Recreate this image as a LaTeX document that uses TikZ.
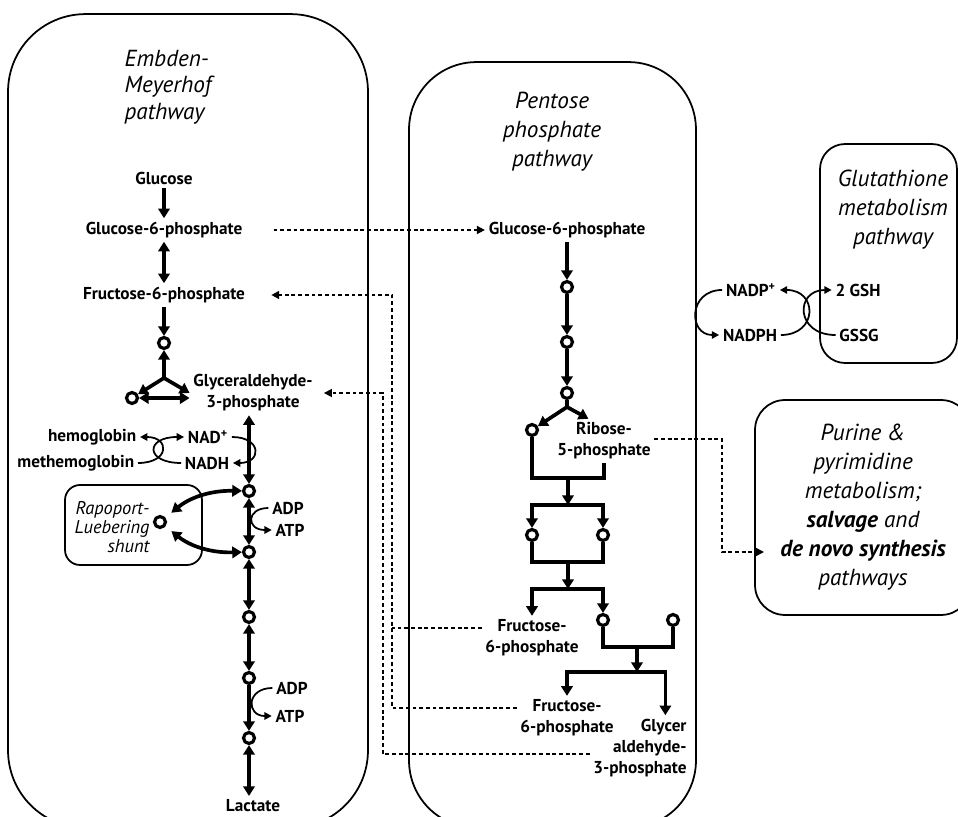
\documentclass[tikz,border=0pt]{standalone}
\usepackage{fontspec}
\setmainfont{PT Sans}
\usepackage{tikz}
\usetikzlibrary{arrows.meta,positioning,calc}
\tikzset{
	pbox/.style={draw,line width=1pt},
	lbl/.style={font=\fontsize{9.8}{12}\selectfont\bfseries,align=center,inner sep=2pt},
	ttl/.style={font=\fontsize{13.2}{16.5}\selectfont\itshape,align=center,inner sep=0pt},
	met/.style={circle,draw,line width=1.8pt,minimum size=0.22cm,inner sep=0pt},
	arr/.style={-{Triangle[length=5.5pt,width=6.5pt]},line width=2.1pt},
	arrb/.style={{Triangle[length=5.5pt,width=6.5pt]}-{Triangle[length=5.5pt,width=6.5pt]},line width=2.1pt},
	ln/.style={line width=2.1pt},
	cpl/.style={-{Triangle[length=4.2pt,width=4.2pt]},line width=1pt},
	dsh/.style={-{Triangle[length=4.5pt,width=4.5pt]},line width=0.9pt,dash pattern=on 2.2pt off 1.6pt},
	dln/.style={line width=0.9pt,dash pattern=on 2.2pt off 1.6pt}
}
\begin{document}
\begin{tikzpicture}[x=0.02cm,y=0.02cm]
		\useasboundingbox (0,0) rectangle (958,-817);
		\clip (0,0) rectangle (958,-817);
		\node[pbox,rounded corners=1.55cm,minimum width=7.2cm,minimum height=16.28cm] (emp) at (188,-421) {};
		\node[pbox,rounded corners=1.35cm,minimum width=5.74cm,minimum height=15.32cm] (ppp) at (552.5,-445) {};
		\node[pbox,rounded corners=0.5cm,minimum width=2.74cm,minimum height=4.38cm] (gbox) at (888.5,-253.5) {};
		\node[ttl,pbox,rounded corners=0.6cm,minimum width=4.32cm,minimum height=4.3cm] (pur) at (863,-507.5) {Purine \&\\pyrimidine\\metabolism;\\\textbf{salvage} and\\\textbf{de novo synthesis}\\pathways};
		\node[ttl,align=left,font=\fontsize{13.2}{15}\selectfont\itshape] (empt) at (168,-87) {Embden-\\Meyerhof\\pathway};
		\node[ttl] (pppt) at (552,-132) {Pentose\\phosphate\\pathway};
		\node[ttl] (gt) at (893,-210) {Glutathione\\metabolism\\pathway};
		\node[lbl] (glc) at (164,-178) {Glucose};
		\node[lbl] (g6p) at (164,-230) {Glucose-6-phosphate};
		\node[lbl] (f6p) at (164,-295) {Fructose-6-phosphate};
		\node[met] (fbp) at (164,-343) {};
		\coordinate (ys) at (164,-378);
		\node[met] (dhap) at (132,-398) {};
		\node[lbl] (ga3p) at (253,-393) {Glyceraldehyde-\\3-phosphate};
		\node[met] (e1) at (249,-491) {};
		\node[met] (e2) at (249,-552) {};
		\node[met] (e3) at (249,-617) {};
		\node[met] (e4) at (249,-678) {};
		\node[met] (e5) at (249,-738) {};
		\node[lbl] (lac) at (253,-806) {Lactate};
		\node[lbl,anchor=east] (hb) at (140,-437) {hemoglobin};
		\node[lbl,anchor=east] (mhb) at (138,-463) {methemoglobin};
		\node[lbl] (nad) at (208,-437) {NAD\textsuperscript{+}};
		\node[lbl] (nadh) at (207,-463) {NADH};
		\node[lbl] (adp1) at (288,-508) {ADP};
		\node[lbl] (atp1) at (290,-530) {ATP};
		\node[lbl] (adp2) at (292,-688) {ADP};
		\node[lbl] (atp2) at (290,-716) {ATP};
		\node[pbox,rounded corners=0.3cm,minimum width=2.74cm,minimum height=1.6cm] (rlb) at (133.5,-525) {};
		\node[font=\fontsize{10.5}{10.8}\selectfont\itshape,align=right,inner sep=0pt] (rlt) at (112,-527) {Rapoport-\\Luebering\\shunt};
		\node[met] (rl) at (160,-522) {};
		\node[lbl] (g6pr) at (567,-230) {Glucose-6-phosphate};
		\node[met] (p1) at (567,-287) {};
		\node[met] (p2) at (567,-342) {};
		\node[met] (p3) at (567,-393) {};
		\coordinate (ps) at (567,-407);
		\node[met] (pl) at (532,-430) {};
		\node[lbl] (r5p) at (604,-441) {Ribose-\\5-phosphate};
		\coordinate (m1) at (568,-478);
		\coordinate (m2) at (568,-505);
		\node[met] (q1) at (532,-535) {};
		\node[met] (q2) at (603,-535) {};
		\coordinate (m3) at (568,-562);
		\coordinate (m4) at (568,-589);
		\node[lbl] (f6pa) at (532,-638) {Fructose-\\6-phosphate};
		\node[met] (q3) at (603,-620) {};
		\node[met] (q4) at (673,-620) {};
		\coordinate (m5) at (637,-647);
		\coordinate (m6) at (637,-672);
		\node[lbl] (f6pb) at (567,-718) {Fructose-\\6-phosphate};
		\node[lbl,align=right] (g3pb) at (640,-748) {Glycer\\aldehyde-\\3-phosphate};
		\node[lbl] (nadp) at (751,-290) {NADP\textsuperscript{+}};
		\node[lbl] (nadph) at (750,-335) {NADPH};
		\node[lbl] (gsh) at (858,-290) {2 GSH};
		\node[lbl] (gssg) at (859,-335) {GSSG};
		\coordinate (tf) at (392,0);
		\coordinate (tg) at (383,0);
		\coordinate (tp) at (722,0);
		\coordinate (dn) at (764,-552);
		\draw[arr] (glc) -- (g6p);
		\draw[arrb] (g6p) -- (f6p);
		\draw[arr] (f6p) -- (fbp);
		\foreach \x in {fbp,dhap,ga3p.west}\draw[arr] (ys) -- (\x);
		\draw[arrb] (dhap) -- (dhap -| ga3p.west);
		\draw[arrb] (ga3p.south -| e1) -- (e1);
		\foreach \x/\y in {e1/e2,e2/e3,e3/e4}\draw[arrb] (\x) -- (\y);
		\draw[arr] (e4) -- (e5);
		\draw[arrb] (e5) -- (lac.north -| e5);
		\draw[arrb,shorten >=0.15cm] (e1) to[bend right=20] (rl);
		\draw[arrb,shorten <=0.15cm] (rl) to[bend right=20] (e2);
		\draw[cpl] (mhb.east) .. controls (170,-463) and (170,-437) .. (hb.east);
		\draw[cpl] (nadh.west) .. controls (145,-463) and (145,-437) .. (nad.west);
		\draw[cpl] (nad.east) .. controls (262,-437) and (262,-463) .. (nadh.east);
		\draw[cpl] (adp1.west) .. controls (246,-508) and (246,-530) .. (atp1.west);
		\draw[cpl] (adp2.west) .. controls (246,-688) and (246,-716) .. (atp2.west);
		\foreach \x/\y in {g6pr/p1,p1/p2,p2/p3}\draw[arr] (\x) -- (\y);
		\draw[ln] (p3) -- (ps);
		\draw[arr] (ps) -- (pl);
		\draw[arr] (ps) -- (r5p.125);
		\draw[ln] (pl) |- (m1) -| (r5p.south);
		\draw[arr] (m1) -- (m2);
		\draw[arr] (m2) -| (q1);
		\draw[arr] (m2) -| (q2);
		\draw[ln] (q1) |- (m3) -| (q2);
		\draw[arr] (m3) -- (m4);
		\draw[arr] (m4) -| (f6pa.north);
		\draw[arr] (m4) -| (q3);
		\draw[ln] (q3) |- (m5) -| (q4);
		\draw[arr] (m5) -- (m6);
		\draw[arr] (m6) -| (f6pb.north);
		\draw[arr] (m6) -| ([xshift=-0.5cm]g3pb.north east);
		\draw[cpl] (nadp.west) .. controls (688,-290) and (688,-335) .. (nadph.west);
		\draw[cpl] (nadph.east) .. controls (818,-335) and (818,-290) .. (nadp.east);
		\draw[cpl] (gssg.west) .. controls (795,-335) and (795,-290) .. (gsh.west);
		\draw[dsh,shorten <=0.55cm] (g6p.east) -- (g6pr.west);
		\draw[dsh,shorten >=0.45cm] ([yshift=0.2cm]f6pb.west) -| (tf |- f6p.east) -- (f6p.east);
		\draw[dln] ([yshift=0.2cm]f6pa.west) -- ([yshift=0.2cm]f6pa.west -| tf);
		\draw[dsh,shorten >=0.15cm] ([yshift=-0.12cm]g3pb.west) -| (tg |- ga3p.east) -- (ga3p.east);
		\draw[dsh] ([yshift=0.04cm]r5p.east) -| (tp |- dn) -- (dn);
	\end{tikzpicture}
\end{document}
